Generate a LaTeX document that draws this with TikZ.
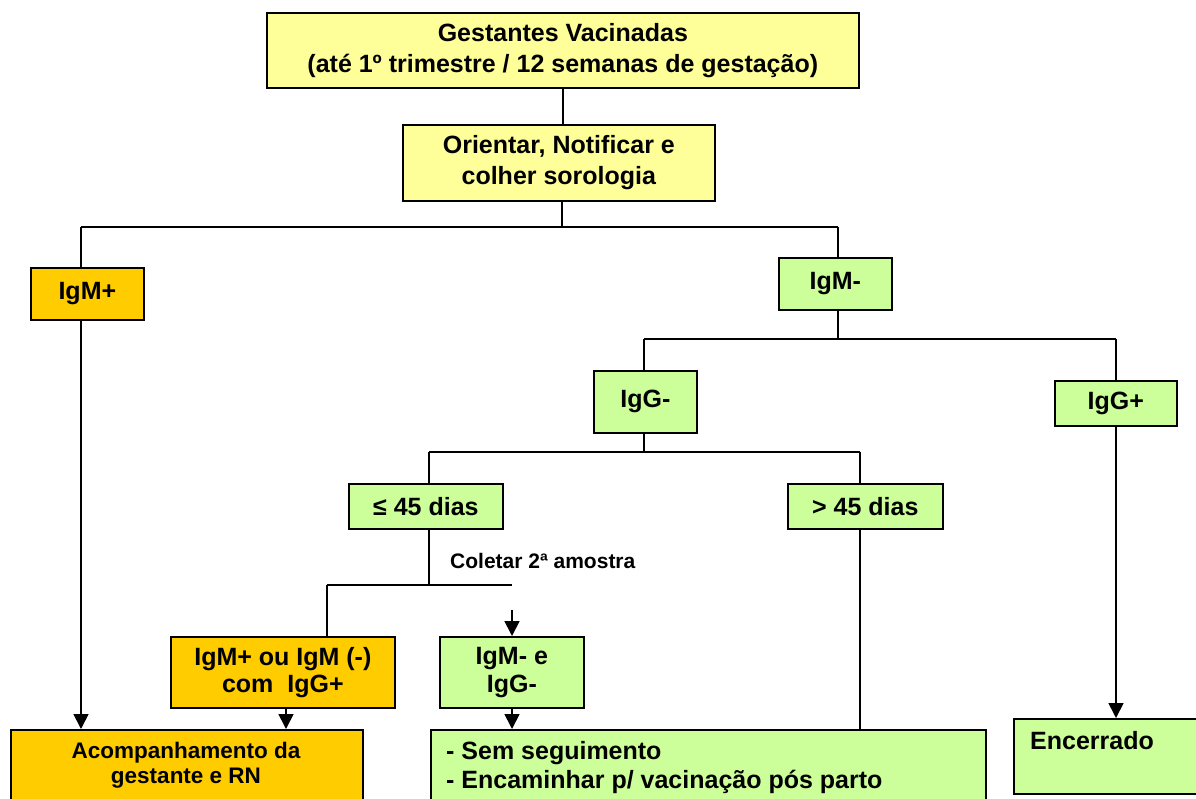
\documentclass[tikz,border=0pt]{standalone}
\usepackage{fontspec}
\setmainfont{Liberation Sans}
\usetikzlibrary{arrows.meta}
\definecolor{cyel}{HTML}{FFFF99}
\definecolor{corg}{HTML}{FFCC00}
\definecolor{cgrn}{HTML}{CCFF99}
\begin{document}
\begin{tikzpicture}[x=1pt,y=-1pt,
  box/.style={draw=black, line width=1.7pt, inner sep=0pt, anchor=north west, align=center,
              font=\bfseries\fontsize{25}{29}\selectfont},
  ybox/.style={box, fill=cyel},
  obox/.style={box, fill=corg},
  gbox/.style={box, fill=cgrn},
  conn/.style={line width=1.7pt},
  arr/.style={conn, -{Triangle[width=15pt,length=15pt]}},
  lbl/.style={inner sep=0pt, font=\bfseries\fontsize{25}{29}\selectfont},
  small/.style={inner sep=0pt, font=\bfseries\fontsize{21}{25}\selectfont}]
\useasboundingbox (0,0) rectangle (1196,798);
\clip (0,0) rectangle (1196,798);
% boxes
\node[ybox, minimum width=592pt, minimum height=75pt, font=\bfseries\fontsize{25}{31}\selectfont] (gv) at (266,12)
  {Gestantes Vacinadas\\(até 1º trimestre / 12 semanas de gestação)};
\node[ybox, minimum width=312pt, minimum height=76pt, font=\bfseries\fontsize{25}{31}\selectfont] (or) at (402,124)
  {Orientar, Notificar e\\colher sorologia};
\node[obox, minimum width=113pt, minimum height=52pt] (igmp) at (30,267) {IgM+};
\node[gbox, minimum width=113pt, minimum height=52pt] (igmn) at (778,257) {IgM-};
\node[gbox, minimum width=103pt, minimum height=62pt] (iggn) at (593,370) {IgG-};
\node[gbox, minimum width=122pt, minimum height=45pt] (iggp) at (1054,380) {IgG+};
\node[gbox, minimum width=154pt, minimum height=45pt] (le45) at (348,483) {≤ 45 dias};
\node[gbox, minimum width=155pt, minimum height=45pt] (gt45) at (787,483) {> 45 dias};
\node[obox, minimum width=224pt, minimum height=71pt, font=\bfseries\fontsize{25}{27}\selectfont] (igmou) at (170,636)
  {IgM+ ou IgM (-)\\com\ \ IgG+};
\node[gbox, minimum width=144pt, minimum height=71pt, font=\bfseries\fontsize{25}{28}\selectfont] (igmeg) at (439,636)
  {IgM- e\\IgG-};
\node[obox, minimum width=352pt, minimum height=100pt] (acomp) at (10,729) {};
\node[gbox, minimum width=555pt, minimum height=100pt] (sem) at (430,729) {};
\node[gbox, minimum width=200pt, minimum height=75pt] (enc) at (1013,718) {};
% texts inside the open boxes
\node[inner sep=0pt, font=\bfseries\fontsize{22.5}{25}\selectfont, anchor=north, align=center] (acompt) at (186,742)
  {Acompanhamento da\\gestante e RN};
\node[lbl, anchor=north west, align=left] (semt) at (446,741) {- Sem seguimento\\- Encaminhar p/ vacinação pós parto};
\node[lbl, anchor=base west] (enct) at (1030,749) {Encerrado};
\node[small, anchor=base west] (col) at (450,568) {Coletar 2ª amostra};
% junction coordinates
\coordinate (a1) at (562,227);
\coordinate (a2) at (81,227);
\coordinate (a3) at (838,227);
\coordinate (b1) at (838,339);
\coordinate (b2) at (644,339);
\coordinate (b3) at (1116,339);
\coordinate (c1) at (644,452);
\coordinate (c2) at (429,452);
\coordinate (c3) at (860,452);
\coordinate (d1) at (429,585);
\coordinate (d2) at (327,585);
\coordinate (d3) at (512,585);
\coordinate (d4) at (512,610);
\coordinate (e1) at (286,707);
% connectors
\draw[conn] (gv.south) -- (gv.south |- or.north);
\draw[conn] (a1 |- or.south) -- (a1);
\draw[conn] (a2) -- (a3);
\draw[conn] (a2) -- (a2 |- igmp.north);
\draw[conn] (a3) -- (a3 |- igmn.north);
\draw[conn] (b1 |- igmn.south) -- (b1);
\draw[conn] (b2) -- (b3);
\draw[conn] (b2) -- (b2 |- iggn.north);
\draw[conn] (b3) -- (b3 |- iggp.north);
\draw[conn] (c1 |- iggn.south) -- (c1);
\draw[conn] (c2) -- (c3);
\draw[conn] (c2) -- (c2 |- le45.north);
\draw[conn] (c3) -- (c3 |- gt45.north);
\draw[conn] (d1 |- le45.south) -- (d1);
\draw[conn] (d2) -- (d3);
\draw[conn] (d2) -- (d2 |- igmou.north);
\draw[arr] (d4) -- (d4 |- igmeg.north);
\draw[arr] (a2 |- igmp.south) -- (a2 |- acomp.north);
\draw[arr] (e1 |- igmou.south) -- (e1 |- acomp.north);
\draw[arr] (d4 |- igmeg.south) -- (d4 |- sem.north);
\draw[conn] (c3 |- gt45.south) -- (c3 |- sem.north);
\draw[arr] (b3 |- iggp.south) -- (b3 |- enc.north);
\end{tikzpicture}
\end{document}
